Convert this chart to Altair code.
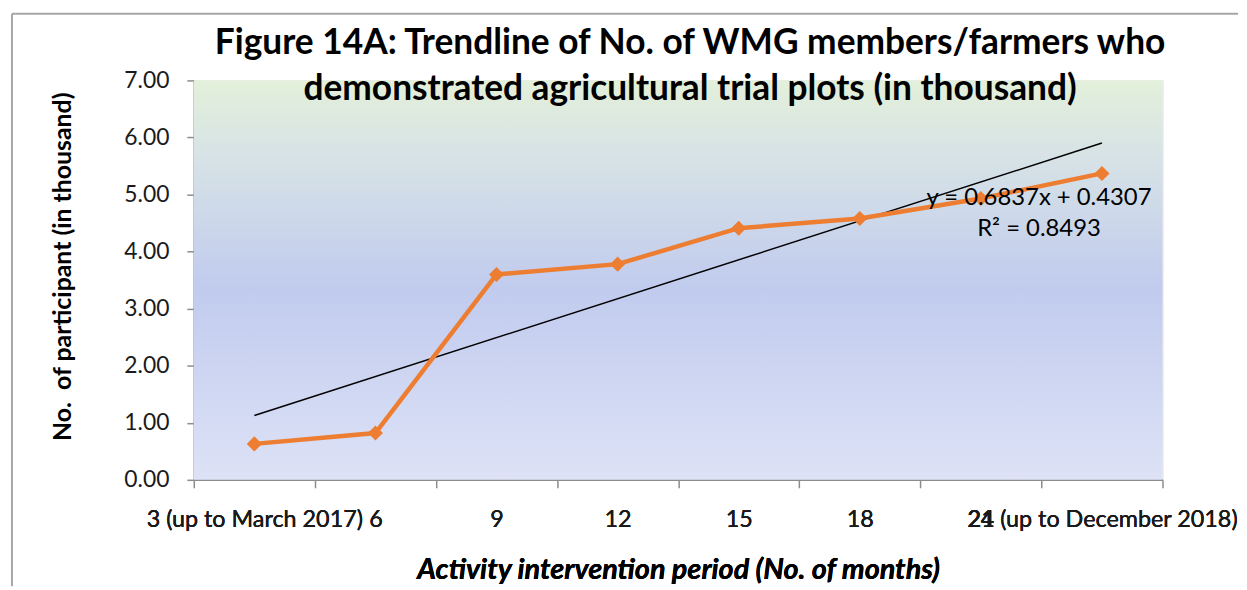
import json
import altair as alt
import pandas as pd

# ---- data ----
categories = ["3 (up to March 2017)", "6", "9", "12", "15", "18", "21", "24 (up to December 2018)"]
participants = [0.63, 0.82, 3.60, 3.78, 4.41, 4.58, 4.93, 5.37]
y_ticks = [0, 1, 2, 3, 4, 5, 6, 7]
equation_text = ["y = 0.6837x + 0.4307", "R² = 0.8493"]
equation_x = [7.48, 7.48]
equation_y = [4.93, 4.40]

title_lines = ["Figure 14A: Trendline of No. of WMG members/farmers who",
               "demonstrated agricultural trial plots (in thousand)"]
x_title = "Activity intervention period (No. of months)"
y_title = "No.\u00a0 of participant (in thousand)"

W, H = 975, 402
FONT = "Lato"
ORANGE = "#ED7D31"
AXIS_GRAY = "#8c8c8c"

df = pd.DataFrame({"idx": list(range(1, len(categories) + 1)),
                   "cat": categories, "value": participants})
eq_df = pd.DataFrame({"x": equation_x, "y": equation_y, "t": equation_text})
one = pd.DataFrame({"a": [0]})

centers = list(range(1, len(categories) + 1))
bounds = [c - 0.5 for c in centers] + [centers[-1] + 0.5]
xscale = alt.Scale(domain=[bounds[0], bounds[-1]], nice=False, zero=False)
yscale = alt.Scale(domain=[0, 7], nice=False)

label_expr = json.dumps(categories) + "[round(datum.value) - 1]"

x_label_axis = alt.Axis(values=centers, labelExpr=label_expr, tickSize=0, labelPadding=28,
                        labelFontSize=23.5, labelFont=FONT, labelColor="#1a1a1a", labelLimit=600,
                        title=x_title, titleFont=FONT, titleFontSize=29, titleFontWeight="bold",
                        titleFontStyle="italic", titlePadding=25, titleColor="black",
                        domainColor=AXIS_GRAY, domainWidth=1.5, grid=False, orient="bottom",
                        labelOverlap=False, labelFlush=False)
x_tick_axis = alt.Axis(values=bounds, labels=False, tickSize=8, tickColor=AXIS_GRAY, tickWidth=1.5,
                       domainColor=AXIS_GRAY, domainWidth=1.5, title=None, grid=False, orient="bottom")
y_axis = alt.Axis(values=y_ticks, format=".2f", tickSize=7, tickColor=AXIS_GRAY, tickWidth=1.5,
                  labelPadding=18, labelFontSize=23, labelFont=FONT, labelColor="#1a1a1a",
                  domainColor=AXIS_GRAY, domainWidth=1.5, grid=False,
                  title=y_title, titleFont=FONT, titleFontSize=25, titleFontWeight="bold",
                  titlePadding=49, titleColor="black", titleY=187)

base = alt.Chart(df)

bg = alt.Chart(one).mark_rect(
    fill=alt.LinearGradient(gradient="linear", x1=0, y1=0, x2=0, y2=1,
                            stops=[alt.GradientStop(offset=0, color="#e3f0da"),
                                   alt.GradientStop(offset=0.2, color="#d6e2e6"),
                                   alt.GradientStop(offset=0.52, color="#c1cbee"),
                                   alt.GradientStop(offset=1, color="#dde2f6")])
).encode(x=alt.value(0), x2=alt.value(W), y=alt.value(0), y2=alt.value(H))

line = base.mark_line(color=ORANGE, strokeWidth=4.5).encode(
    x=alt.X("idx:Q", scale=xscale, axis=x_label_axis),
    y=alt.Y("value:Q", scale=yscale, axis=y_axis),
)
points = base.mark_point(shape="diamond", filled=True, color=ORANGE, size=230, opacity=1).encode(
    x=alt.X("idx:Q", scale=xscale, axis=x_label_axis),
    y=alt.Y("value:Q", scale=yscale, axis=y_axis),
)
trend = base.transform_regression("idx", "value", method="linear").mark_line(
    color="black", strokeWidth=1.5).encode(
    x=alt.X("idx:Q", scale=xscale, axis=x_tick_axis),
    y=alt.Y("value:Q", scale=yscale, axis=y_axis),
)
eq = alt.Chart(eq_df).mark_text(font=FONT, fontSize=24, color="black", align="center",
                                baseline="middle").encode(
    x=alt.X("x:Q", scale=xscale, axis=x_label_axis),
    y=alt.Y("y:Q", scale=yscale, axis=y_axis),
    text="t:N",
)

# outer chart-area frame (left and top edges visible in the reference)
frame_left = alt.Chart(one).mark_rule(color="#a6a6a6", strokeWidth=2).encode(
    x=alt.value(-183), y=alt.value(-67), y2=alt.value(H + 107))
frame_top = alt.Chart(one).mark_rule(color="#a6a6a6", strokeWidth=2).encode(
    x=alt.value(-183), x2=alt.value(1051), y=alt.value(-67))

chart = alt.layer(bg, frame_left, frame_top, trend, line, points, eq).resolve_axis(
    x="independent"
).resolve_scale(x="shared", y="shared").properties(
    width=W, height=H,
    padding={"left": 3, "top": 3, "right": 0, "bottom": 0},
    title=alt.TitleParams(text=title_lines, font=FONT, fontSize=35.5, fontWeight="bold",
                          anchor="middle", dx=12, offset=-95, lineHeight=46, color="black"),
).configure_view(stroke=None).configure(background="white")

chart.save("out.html", embed_options={"renderer": "svg", "actions": False})
